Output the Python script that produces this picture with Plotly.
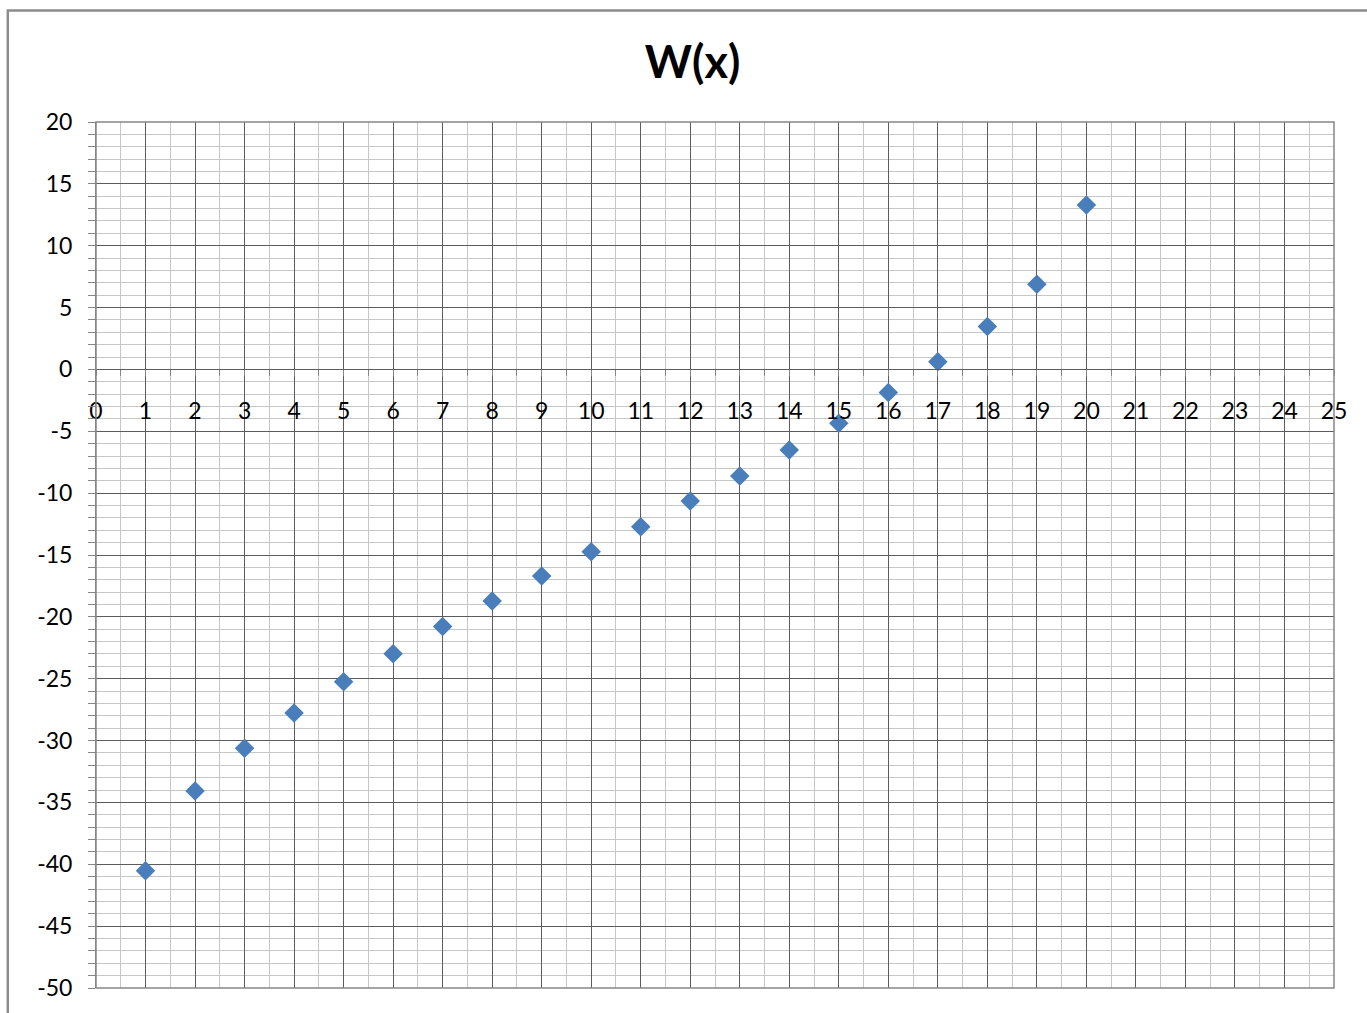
import plotly.graph_objects as go

x_vals = [1, 2, 3, 4, 5, 6, 7, 8, 9, 10, 11, 12, 13, 14, 15, 16, 17, 18, 19, 20]
w_vals = [-40.53, -34.08, -30.63, -27.78, -25.25, -22.98, -20.78, -18.71, -16.69, -14.73,
          -12.71, -10.63, -8.61, -6.51, -4.36, -1.86, 0.63, 3.46, 6.88, 13.29]
title_text = "W(x)"
x_range = [0, 25]
y_range = [-50, 20]
y_tickvals = [20, 15, 10, 5, 0, -5, -10, -15, -20, -25, -30, -35, -40, -45, -50]
y_ticktext = ["20", "15", "10", "5", "0", "-5", "-10", "-15", "-20", "-25", "-30", "-35", "-40", "-45", "-50"]

FONT = "Lato, 'Open Sans', sans-serif"
MAJOR = "#5c5c5c"
MINOR = "#c6c6c6"
AXIS = "#868686"

fig = go.Figure()
fig.add_trace(go.Scatter(
    x=x_vals, y=w_vals, mode="markers",
    marker=dict(symbol="diamond", size=15, color="#4a7ebb", line=dict(width=0)),
    showlegend=False, hoverinfo="x+y"))

x_pos = (0 - y_range[0]) / (y_range[1] - y_range[0])

fig.update_layout(
    width=1367, height=1013,
    margin=dict(l=96, r=33, t=122, b=25),
    paper_bgcolor="white", plot_bgcolor="white",
    font=dict(family=FONT, size=23, color="black"),
    title=dict(text="<b>" + title_text + "</b>", x=692.5 / 1367, xref="container", xanchor="center",
               y=1 - 62 / 1013, yref="container", yanchor="middle",
               font=dict(family=FONT, size=45, color="black")),
    xaxis=dict(range=x_range, dtick=1, tick0=0, anchor="free", position=x_pos,
               showgrid=True, gridcolor=MAJOR, gridwidth=1,
               zeroline=False, showline=True, linecolor=MAJOR, linewidth=1,
               ticks="outside", ticklen=6, tickcolor=AXIS,
               ticklabelstandoff=15,
               minor=dict(dtick=0.5, tick0=0, showgrid=True, gridcolor=MINOR, gridwidth=1,
                          ticks="outside", ticklen=6, tickcolor=AXIS),
               tickfont=dict(family=FONT, size=23, color="black")),
    xaxis2=dict(range=x_range, overlaying="x", matches="x", anchor="free", position=x_pos,
                dtick=0.5, tick0=0, showgrid=False, zeroline=False, showline=False,
                showticklabels=False, ticks="inside", ticklen=6, tickcolor=AXIS),
    yaxis=dict(range=y_range, tickmode="array", tickvals=y_tickvals, ticktext=y_ticktext,
               showgrid=True, gridcolor=MAJOR, gridwidth=1,
               zeroline=False, showline=True, linecolor=AXIS, linewidth=1,
               ticks="outside", ticklen=7, tickcolor=AXIS,
               ticklabelstandoff=11,
               minor=dict(dtick=1, tick0=0, showgrid=True, gridcolor=MINOR, gridwidth=1,
                          ticks="outside", ticklen=7, tickcolor=AXIS),
               tickfont=dict(family=FONT, size=23, color="black")),
    shapes=[
        dict(type="rect", xref="paper", yref="paper", x0=0, x1=1, y0=0, y1=1,
             line=dict(color=AXIS, width=1.5), fillcolor="rgba(0,0,0,0)", layer="above"),
        dict(type="rect", xref="paper", yref="paper", x0=(7.8 - 96) / 1238, x1=1.3,
             y0=-0.3, y1=(988 - 10.5) / 866,
             line=dict(color="#8c8c8c", width=2.5), fillcolor="rgba(0,0,0,0)", layer="above"),
    ],
)

fig.write_html("out.html", config={"displayModeBar": False},
               post_script="document.body.style.margin='0';document.body.style.overflow='hidden';")
